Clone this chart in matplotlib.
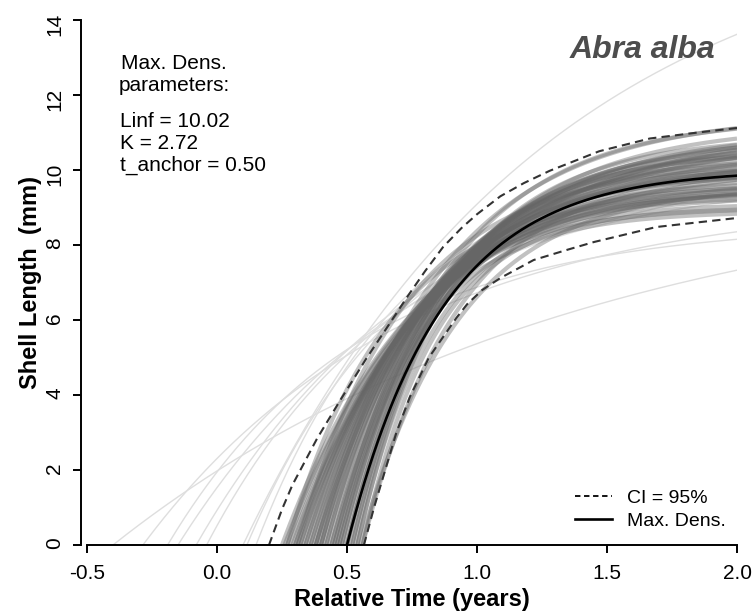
import numpy as np
import matplotlib
matplotlib.use("Agg")
import matplotlib.pyplot as plt
from matplotlib.lines import Line2D

plt.rcParams['font.family'] = ['Liberation Sans', 'DejaVu Sans']

# max. density growth parameters
linf_md, k_md, ta_md = 10.02, 2.72, 0.50

# bootstrap growth curves (t_anchor, Linf, K) - main band
boot_ta = [0.25, 0.26, 0.27, 0.28, 0.29, 0.30, 0.30, 0.31, 0.32, 0.32,
           0.33, 0.34, 0.34, 0.35, 0.36, 0.36, 0.37, 0.38, 0.38, 0.39,
           0.40, 0.40, 0.41, 0.42, 0.42, 0.43, 0.44, 0.44, 0.45, 0.46,
           0.46, 0.47, 0.48, 0.48, 0.49, 0.50, 0.50, 0.51, 0.52, 0.52,
           0.53, 0.54, 0.54, 0.55, 0.56, 0.56, 0.38, 0.45, 0.40, 0.47,
           0.27, 0.31]
boot_linf = [10.4, 10.9, 9.8, 11.2, 10.1, 10.6, 9.6, 11.0, 10.3, 9.9,
             10.7, 9.5, 11.1, 10.2, 10.8, 9.7, 10.5, 9.3, 11.0, 10.0,
             10.6, 9.6, 10.9, 10.1, 9.4, 10.6, 9.9, 11.2, 10.3, 9.6,
             10.8, 10.0, 10.5, 9.3, 10.2, 9.7, 10.9, 10.1, 9.4, 10.6,
             9.9, 9.1, 10.3, 9.6, 9.0, 10.0, 11.5, 11.4, 9.0, 8.9,
             9.5, 10.2]
boot_k = [1.80, 1.70, 2.00, 1.65, 1.95, 1.85, 2.15, 1.80, 2.05, 2.20,
          2.00, 2.45, 1.95, 2.25, 2.10, 2.45, 2.25, 2.70, 2.05, 2.50,
          2.35, 2.65, 2.25, 2.60, 2.85, 2.45, 2.75, 2.20, 2.65, 2.95,
          2.45, 2.80, 2.70, 3.10, 2.85, 3.00, 2.60, 2.95, 3.25, 2.80,
          3.10, 3.40, 3.00, 2.60, 3.50, 2.70, 2.10, 2.35, 3.00, 3.20,
          2.50, 2.40]

# outlying bootstrap curves (light grey)
out_ta = [-0.40, -0.285, -0.19, -0.15, -0.08, -0.04, 0.115, 0.10, 0.15]
out_linf = [10.0, 9.3, 8.6, 10.5, 11.0, 9.8, 10.2, 17.0, 10.6]
out_k = [0.55, 1.00, 1.35, 1.05, 1.10, 1.35, 1.60, 0.85, 1.70]

# 95% confidence envelope
ci_up_t = [0.20, 0.25, 0.29, 0.385, 0.473, 0.575, 0.654, 0.73, 0.80, 0.87,
           0.94, 1.00, 1.09, 1.18, 1.28, 1.47, 1.665, 1.85, 2.00]
ci_up_l = [0.0, 0.95, 1.6, 2.84, 3.85, 4.98, 5.8, 6.6, 7.3, 7.95,
           8.45, 8.82, 9.3, 9.65, 9.98, 10.5, 10.84, 11.0, 11.12]
ci_lo_t = [0.565, 0.604, 0.647, 0.69, 0.742, 0.815, 0.92, 0.962, 1.02,
           1.09, 1.218, 1.346, 1.45, 1.69, 2.00]
ci_lo_l = [0.0, 1.0, 2.0, 3.0, 3.95, 5.0, 6.05, 6.42, 6.8,
           7.12, 7.6, 7.87, 8.08, 8.48, 8.72]


def vbgf(t, linf, k, ta):
    return linf * (1 - np.exp(-k * (t - ta)))


t = np.linspace(-0.5, 2.0, 600)

fig = plt.figure(figsize=(7.53, 6.15), dpi=100)
ax = fig.add_axes([87/753, 1 - 545/615, 650/753, 525/615])

for ta, li, k in zip(out_ta, out_linf, out_k):
    ax.plot(t, vbgf(t, li, k, ta), color='0.87', lw=1.0)
for ta, li, k in zip(boot_ta, boot_linf, boot_k):
    ax.plot(t, vbgf(t, li, k, ta), color='0.4', lw=3.0, alpha=0.4,
            solid_capstyle='butt')

ax.plot(ci_up_t, ci_up_l, color='0.2', lw=1.5, dashes=(4, 2.5))
ax.plot(ci_lo_t, ci_lo_l, color='0.2', lw=1.5, dashes=(4, 2.5))
ax.plot(t, vbgf(t, linf_md, k_md, ta_md), color='black', lw=1.9)

ax.set_xlim(-0.5, 2.0)
ax.set_ylim(0, 14)
ax.set_xticks([-0.5, 0.0, 0.5, 1.0, 1.5, 2.0])
ax.set_xticklabels(['-0.5', '0.0', '0.5', '1.0', '1.5', '2.0'])
ax.set_yticks([0, 2, 4, 6, 8, 10, 12, 14])
ax.set_yticklabels(['0', '2', '4', '6', '8', '10', '12', '14'])
ax.tick_params(direction='out', length=6, width=1.4, labelsize=15)
ax.tick_params(axis='x', pad=8)
ax.tick_params(axis='y', pad=6, labelrotation=90)
for lab in ax.get_yticklabels():
    lab.set_verticalalignment('center')

for s in ['top', 'right']:
    ax.spines[s].set_visible(False)
ax.spines['left'].set_position(('outward', 4.5))
ax.spines['left'].set_linewidth(1.4)
ax.spines['bottom'].set_linewidth(1.4)
ax.spines['bottom'].set_zorder(5)

ax.set_xlabel('Relative Time (years)', fontsize=17, fontweight='bold', labelpad=3)
ax.set_ylabel('Shell Length  (mm)', fontsize=17, fontweight='bold', labelpad=2)

ax.text(-0.165, 13.1, 'Max. Dens.\nparameters:', fontsize=15, va='top',
        ha='center', linespacing=1.2)
ax.text(-0.375, 11.55, 'Linf = 10.02\nK = 2.72\nt_anchor = 0.50', fontsize=15,
        va='top', ha='left', linespacing=1.2)
ax.text(1.915, 13.2, 'Abra alba', fontsize=23, fontweight='bold',
        fontstyle='italic', color='0.3', ha='right', va='center')

handles = [Line2D([], [], color='black', lw=1.3, dashes=(3, 2)),
           Line2D([], [], color='black', lw=1.9)]
ax.legend(handles, ['CI = 95%', 'Max. Dens.'], loc='lower right',
          bbox_to_anchor=(1.01, -0.005), frameon=False, fontsize=14,
          handlelength=1.9, handletextpad=0.8, labelspacing=0.3)

fig.savefig('out.png', dpi=100)
